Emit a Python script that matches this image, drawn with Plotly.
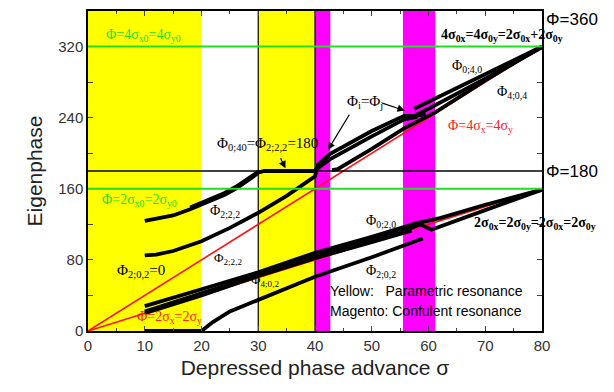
import plotly.graph_objects as go

# ---------------- data ----------------
yellow_bands = [(0, 20), (30, 40)]
magenta_bands = [(40, 42.7), (55.5, 61.2)]
green_levels = [160, 320]
black_level = 180
x_ticks = [0, 10, 20, 30, 40, 50, 60, 70, 80]
y_ticks = [0, 80, 160, 240, 320]

red_4s_x = [0, 80]
red_4s_y = [0, 320]
red_2s_x = [0, 80]
red_2s_y = [0, 160]

# upper Phi_{2;2,2} branch reaching 180 then flat
A1_x = [10, 12, 15, 18, 20, 22, 24, 26, 28, 29, 30, 31, 35, 40]
A1_y = [124, 126, 130, 137, 142, 147, 153, 160, 168, 173, 178, 180, 180, 180]
A2_x = [18, 20, 22, 24, 26, 28, 29, 30]
A2_y = [139, 144, 149, 155, 162, 170, 175, 179]
# second branch from 85 to 174 then into upper group
B_x = [10, 12, 15, 20, 25, 30, 35, 38, 40, 40.5, 42.6, 50, 55.7, 57.8, 59.5]
B_y = [85, 86, 90, 101, 116, 133, 152, 165, 174, 187, 199, 225, 242, 242, 244]
U2_x = [40, 42.6, 50, 55.7, 58]
U2_y = [181, 193, 219, 238, 241]
U3_x = [43, 44, 50, 55.7, 61.2, 70, 80]
U3_y = [181, 182, 205, 228, 246, 282, 320]
U4_x = [57.5, 62, 70, 80]
U4_y = [250, 264, 289, 320]
U5_x = [57.8, 60, 70, 80]
U5_y = [243, 250, 284, 319]
# lower group
C_x = [10, 15, 20, 30, 40, 50, 55.5, 57.8, 62, 70, 80]
C_y = [28, 38, 47, 66, 88, 106, 117, 121, 127, 142, 159]
D1_x = [10, 15, 20, 30, 40, 50, 57]
D1_y = [20, 30, 40, 62, 82, 100, 113]
D2_x = [10, 15, 20, 30, 40, 50, 57, 58.5, 60.5, 70, 80]
D2_y = [22, 32, 42, 63, 84, 103, 116, 120, 114, 136, 159]
E_x = [10, 15, 20, 21, 22, 25, 30, 35, 40, 50, 59]
E_y = [0, 0, 0, 5, 10, 22, 35, 48, 61, 83, 104]

fig = go.Figure()

def line(x, y, color="black", width=3.8):
    fig.add_trace(go.Scatter(x=x, y=y, mode="lines", line=dict(color=color, width=width),
                             hoverinfo="skip", showlegend=False))

line(red_4s_x, red_4s_y, "#ff1010", 1.6)
line(red_2s_x, red_2s_y, "#ff1010", 1.6)
for xs, ys in [(A1_x, A1_y), (A2_x, A2_y), (B_x, B_y), (U2_x, U2_y), (U3_x, U3_y),
               (U4_x, U4_y), (U5_x, U5_y), (C_x, C_y), (D1_x, D1_y), (D2_x, D2_y), (E_x, E_y)]:
    line(xs, ys)

shapes = []
for a, b in yellow_bands:
    shapes.append(dict(type="rect", xref="x", yref="y", x0=a, x1=b, y0=0, y1=360,
                       fillcolor="#ffff00", line=dict(width=0), layer="below"))
for a, b in magenta_bands:
    shapes.append(dict(type="rect", xref="x", yref="y", x0=a, x1=b, y0=0, y1=360,
                       fillcolor="#ff00ff", line=dict(width=0), layer="below"))
for xv in [30, 40]:
    shapes.append(dict(type="line", xref="x", yref="y", x0=xv, x1=xv, y0=0, y1=360,
                       line=dict(color="black", width=1.2), layer="below"))
for g in green_levels:
    shapes.append(dict(type="line", xref="x", yref="y", x0=0, x1=80, y0=g, y1=g,
                       line=dict(color="#22dd22", width=2)))
shapes.append(dict(type="line", xref="x", yref="y", x0=0, x1=80, y0=black_level, y1=black_level,
                   line=dict(color="black", width=1.5)))

serif = "Liberation Serif"
sans = "Liberation Sans"
ann = []
def txt(x, y, t, color="black", size=14, family=serif, xref="x", yref="y", yanchor="middle", yshift=0):
    ann.append(dict(x=x, y=y, xref=xref, yref=yref, text=t, showarrow=False, yshift=yshift,
                    xanchor="left", yanchor=yanchor, font=dict(color=color, size=size, family=family)))

txt(2.8, 333, "Φ=4σ<sub>x0</sub>=4σ<sub>y0</sub>", "#22dd22", 14)
txt(2.2, 147, "Φ=2σ<sub>x0</sub>=2σ<sub>y0</sub>", "#22dd22", 14)
txt(8.2, 15, "Φ=2σ<sub>x</sub>=2σ<sub>y</sub>", "#ff2020", 14)
txt(4.8, 68, "Φ<sub>2;0,2</sub>=0", "black", 15)
txt(22.3, 210, "Φ<sub>0;40</sub>=Φ<sub>2;2,2</sub>=180", "black", 15)
txt(21.2, 134, "Φ<sub>2;2,2</sub>", "black", 14)
txt(21.9, 82, "Φ<sub>2;2,2</sub>", "black", 13)
txt(28.3, 57, "Φ<sub>4;0,2</sub>", "black", 13)
txt(45.2, 258, "Φ<sub>i</sub>=Φ<sub>j</sub>", "black", 15)
txt(63.8, 298, "Φ<sub>0;4,0</sub>", "black", 14)
txt(71.8, 268, "Φ<sub>4;0,4</sub>", "black", 14)
txt(63.0, 230, "Φ=4σ<sub>x</sub>=4σ<sub>y</sub>", "#ff2020", 14)
txt(61.8, 332, "<b>4σ<sub>0x</sub>=4σ<sub>0y</sub>=2σ<sub>0x</sub>+2σ<sub>0y</sub></b>", "black", 14)
txt(48.6, 123, "Φ<sub>0;2,0</sub>", "black", 14)
txt(67.6, 121, "<b>2σ<sub>0x</sub>=2σ<sub>0y</sub>=2σ<sub>0x</sub>=2σ<sub>0y</sub></b>", "black", 14)
txt(48.6, 67, "Φ<sub>2;0,2</sub>", "black", 14)
txt(42.3, 45, "Yellow:   Parametric resonance", "black", 14, sans)
txt(42.3, 23, "Magento: Confulent resonance", "black", 14, sans)
txt(1.005, 1.0, "Φ=360", "black", 17, sans, "paper", "paper", "top", 3)
txt(1.005, 0.5, "Φ=180", "black", 17, sans, "paper", "paper")

for (ax_, ay_, x_, y_) in [(33.8, 196, 34.8, 183), (46.2, 245, 42.3, 204), (51.6, 257, 55.8, 248)]:
    ann.append(dict(x=x_, y=y_, ax=ax_, ay=ay_, xref="x", yref="y", axref="x", ayref="y",
                    showarrow=True, arrowhead=2, arrowsize=1.2, arrowwidth=1.2, arrowcolor="black", text=""))

fig.update_layout(
    width=614, height=392,
    margin=dict(l=80, r=80, t=3, b=69),
    paper_bgcolor="white", plot_bgcolor="white",
    shapes=shapes, annotations=ann,
    font=dict(family=sans, color="black"),
    xaxis=dict(range=[0, 80], tickvals=x_ticks, ticks="inside", ticklen=5, tickwidth=1,
               minor=dict(dtick=5, ticks="inside", ticklen=3),
               showgrid=False, zeroline=False, showline=True, linecolor="black", linewidth=1.5,
               mirror="ticks", tickfont=dict(size=15, color="#333"), automargin=False,
               title=dict(text="Depressed phase advance σ", font=dict(size=21, color="#222"), standoff=8)),
    yaxis=dict(range=[0, 360], tickvals=y_ticks, ticks="inside", ticklen=5, tickwidth=1,
               minor=dict(dtick=40, ticks="inside", ticklen=5),
               showgrid=False, zeroline=False, showline=True, linecolor="black", linewidth=1.5,
               mirror="ticks", tickfont=dict(size=15, color="#333"), automargin=False,
               title=dict(text="Eigenphase", font=dict(size=21, color="#222"), standoff=10)),
)

fig.write_html("out.html")
